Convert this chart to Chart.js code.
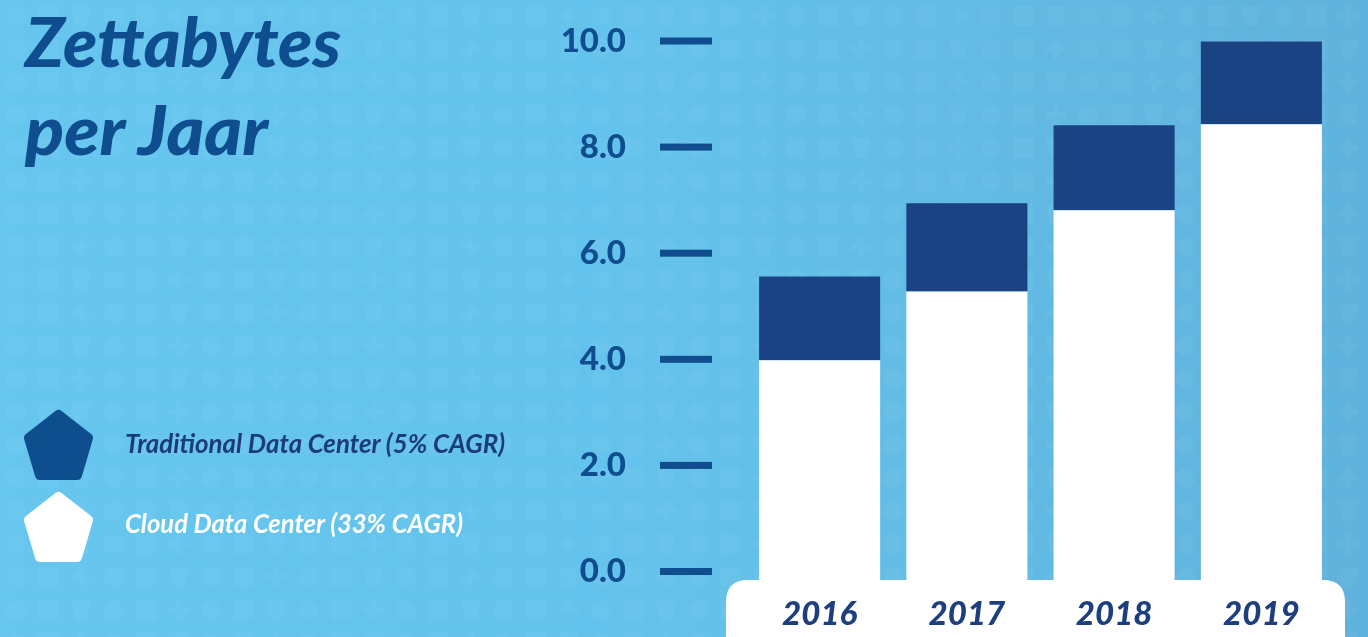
<!DOCTYPE html>
<html>
<head>
<meta charset="utf-8">
<script src="https://cdn.jsdelivr.net/npm/chart.js@4.4.1/dist/chart.umd.min.js"></script>
<style>
  html, body { margin: 0; padding: 0; }
  body {
    width: 1368px; height: 637px; overflow: hidden; position: relative;
    background: linear-gradient(90deg, #66c6ee 0%, #64c3ec 45%, #5fb2dc 100%);
  }
  #bg { position: absolute; left: 0; top: 0; }
  #chart { position: absolute; left: 0; top: 0; }
  #overlay { position: absolute; left: 0; top: 0; }
</style>
</head>
<body>
<svg id="bg" width="1368" height="637"></svg>
<canvas id="chart" width="1368" height="637"></canvas>
<svg id="overlay" width="560" height="637"></svg>
<script>
// ---- data ----
const titleLines = ['Zettabytes', 'per Jaar'];
const years = ['2016', '2017', '2018', '2019'];
const cloudValues = [3.98, 5.28, 6.81, 8.43];
const traditionalValues = [1.58, 1.66, 1.60, 1.56];
const yTickValues = [0, 2, 4, 6, 8, 10];
const seriesNames = ['Traditional Data Center (5% CAGR)', 'Cloud Data Center (33% CAGR)'];

// ---- styles ----
const DARK_BAR = '#1b4282';
const AXIS_BLUE = '#0f4d8e';
const YEAR_BLUE = '#1d3f7f';

// faint background pattern
(function () {
  const svg = document.getElementById('bg');
  let html = '';
  const shapes = ['circle', 'rect', 'tri', 'circle', 'rect', 'cross'];
  for (let row = 0; row < 20; row++) {
    for (let col = 0; col < 44; col++) {
      const cx = 16 + col * 32.5, cy = 16 + row * 33;
      const s = shapes[(row * 3 + col) % shapes.length];
      const op = 0.045;
      if (s === 'circle') html += `<circle cx="${cx}" cy="${cy}" r="10" fill="#fff" opacity="${op}"/>`;
      else if (s === 'rect') html += `<rect x="${cx-10}" y="${cy-10}" width="20" height="20" fill="#fff" opacity="${op}"/>`;
      else if (s === 'tri') html += `<polygon points="${cx-10},${cy-10} ${cx+10},${cy-10} ${cx+6},${cy+10} ${cx-6},${cy+10}" fill="#fff" opacity="${op}"/>`;
      else html += `<path d="M${cx-3},${cy-10}h6v7h7v6h-7v7h-6v-7h-7v-6h7z" fill="#fff" opacity="${op}"/>`;
    }
  }
  svg.innerHTML = html;
})();

// title & legend overlay (real text)
(function () {
  const svg = document.getElementById('overlay');
  const pent = (y0, fill) => {
    const pts = [[58.5, y0 + 6], [88, y0 + 29], [77, y0 + 66], [40, y0 + 66], [29, y0 + 29]];
    return `<polygon points="${pts.map(p => p.join(',')).join(' ')}" fill="${fill}" stroke="${fill}" stroke-width="10" stroke-linejoin="round"/>`;
  };
  svg.innerHTML =
    `<text x="25" y="67" textLength="316" lengthAdjust="spacingAndGlyphs" font-family="Lato" font-weight="900" font-style="italic" font-size="68" fill="#0f4e8e">${titleLines[0]}</text>` +
    `<text x="25" y="155" textLength="243" lengthAdjust="spacingAndGlyphs" font-family="Lato" font-weight="900" font-style="italic" font-size="68" fill="#0f4e8e">${titleLines[1]}</text>` +
    pent(409, '#0f4e8e') +
    pent(491, '#ffffff') +
    `<text x="125" y="453" textLength="380" lengthAdjust="spacingAndGlyphs" font-family="Lato" font-weight="700" font-style="italic" font-size="27" fill="#1b3c78">${seriesNames[0]}</text>` +
    `<text x="125" y="533" textLength="338" lengthAdjust="spacingAndGlyphs" font-family="Lato" font-weight="700" font-style="italic" font-size="27" fill="#ffffff">${seriesNames[1]}</text>`;
})();

// white rounded box under the category labels
const yearBoxPlugin = {
  id: 'yearBox',
  beforeDraw(chart) {
    const { ctx, chartArea } = chart;
    const x0 = chartArea.left - 20, x1 = chartArea.right + 10;
    const y0 = chartArea.bottom, y1 = chartArea.bottom + 78, r = 22;
    ctx.save();
    ctx.fillStyle = '#ffffff';
    ctx.beginPath();
    ctx.moveTo(x0 + r, y0);
    ctx.lineTo(x1 - r, y0);
    ctx.quadraticCurveTo(x1, y0, x1, y0 + r);
    ctx.lineTo(x1, y1 - r);
    ctx.quadraticCurveTo(x1, y1, x1 - r, y1);
    ctx.lineTo(x0 + r, y1);
    ctx.quadraticCurveTo(x0, y1, x0, y1 - r);
    ctx.lineTo(x0, y0 + r);
    ctx.quadraticCurveTo(x0, y0, x0 + r, y0);
    ctx.closePath();
    ctx.fill();
    ctx.restore();
  }
};

// short dash tick marks, detached from the plot area
const tickMarkPlugin = {
  id: 'tickMarks',
  afterDraw(chart) {
    const { ctx } = chart;
    const ys = chart.scales.y;
    ctx.save();
    ctx.fillStyle = AXIS_BLUE;
    ys.ticks.forEach(t => {
      const py = ys.getPixelForValue(t.value);
      ctx.fillRect(ys.right - 86, py - 3.5, 52, 7);
    });
    ctx.restore();
  }
};

new Chart(document.getElementById('chart'), {
  type: 'bar',
  data: {
    labels: years,
    datasets: [
      { label: seriesNames[1], data: cloudValues, backgroundColor: '#ffffff', base: -0.16, stack: 's' },
      { label: seriesNames[0], data: traditionalValues, backgroundColor: DARK_BAR, stack: 's' }
    ]
  },
  plugins: [yearBoxPlugin, tickMarkPlugin],
  options: {
    responsive: false,
    animation: false,
    devicePixelRatio: 1,
    layout: { padding: { top: 41, right: 33, left: 0, bottom: 0 } },
    datasets: { bar: { categoryPercentage: 1, barPercentage: 0.822, borderWidth: 0 } },
    plugins: { legend: { display: false }, tooltip: { enabled: false }, title: { display: false } },
    scales: {
      x: {
        stacked: true,
        grid: { display: false },
        border: { display: false },
        ticks: { color: YEAR_BLUE, padding: 7, font: { family: 'Lato', weight: '900', style: 'italic', size: 33 } },
        afterFit(s) { s.height = 57; s.paddingLeft = 0; s.paddingRight = 0; }
      },
      y: {
        stacked: true,
        min: -0.16,
        max: 10,
        grid: { display: false },
        border: { display: false },
        afterBuildTicks(s) { s.ticks = yTickValues.map(v => ({ value: v })); },
        ticks: {
          color: AXIS_BLUE, padding: 112,
          font: { family: 'Lato', weight: '900', size: 33 },
          callback: v => Number(v).toFixed(1)
        },
        afterFit(s) { s.width = 746; s.paddingTop = 0; s.paddingBottom = 0; }
      }
    }
  }
});
</script>
</body>
</html>
